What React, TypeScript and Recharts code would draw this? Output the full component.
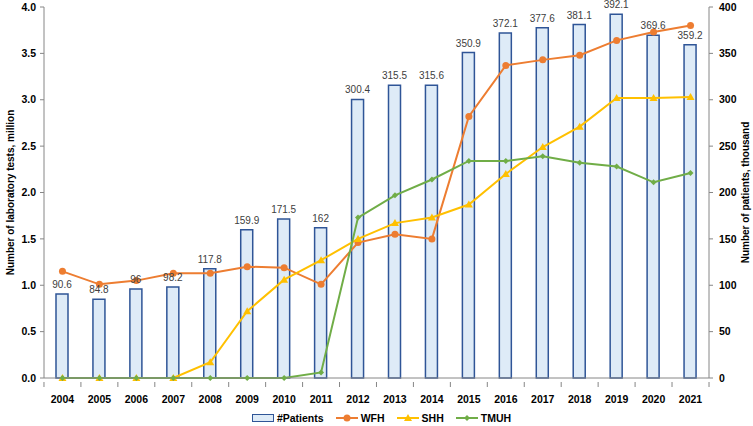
import React from "react";
import {
  ComposedChart,
  Bar,
  Line,
  XAxis,
  YAxis,
  LabelList,
  Legend,
} from "recharts";

const years = [
  "2004", "2005", "2006", "2007", "2008", "2009", "2010", "2011", "2012",
  "2013", "2014", "2015", "2016", "2017", "2018", "2019", "2020", "2021",
];

// number of patients, thousand (right axis)
const patients = [
  90.6, 84.8, 96, 98.2, 117.8, 159.9, 171.5, 162, 300.4, 315.5, 315.6, 350.9,
  372.1, 377.6, 381.1, 392.1, 369.6, 359.2,
];

// laboratory tests, million (left axis)
const wfh = [
  1.15, 1.01, 1.05, 1.13, 1.13, 1.2, 1.19, 1.01, 1.46, 1.55, 1.5, 2.82, 3.37,
  3.43, 3.48, 3.64, 3.73, 3.8,
];
const shh = [
  0, 0, 0, 0, 0.17, 0.72, 1.06, 1.27, 1.5, 1.67, 1.73, 1.87, 2.2, 2.49, 2.71,
  3.02, 3.02, 3.03,
];
const tmuh = [
  0, 0, 0, 0, 0, 0, 0, 0.06, 1.73, 1.97, 2.14, 2.34, 2.34, 2.39, 2.32, 2.28,
  2.11, 2.21,
];

const leftTicks = [0, 0.5, 1, 1.5, 2, 2.5, 3, 3.5, 4];
const rightTicks = [0, 50, 100, 150, 200, 250, 300, 350, 400];

const data = years.map((year, i) => ({
  year,
  patients: patients[i],
  WFH: wfh[i],
  SHH: shh[i],
  TMUH: tmuh[i],
}));

const FONT = "'Liberation Sans', Arial, sans-serif";
const ORANGE = "#ED7D31";
const YELLOW = "#FFC000";
const GREEN = "#70AD47";
const BAR_FILL = "#DEEBF7";
const BAR_STROKE = "#2F5597";
const AXIS = "#868686";

const HALF_BAND = 18.5;

const XTick = (props: any) => {
  const { x, y, payload, index } = props;
  return (
    <g>
      <line x1={x - HALF_BAND} x2={x - HALF_BAND} y1={y - 4} y2={y + 1} stroke={AXIS} />
      {index === years.length - 1 && (
        <line x1={x + HALF_BAND} x2={x + HALF_BAND} y1={y - 4} y2={y + 1} stroke={AXIS} />
      )}
      <text
        x={x}
        y={y + 17}
        textAnchor="middle"
        fontFamily={FONT}
        fontSize={10.5}
        fontWeight="bold"
        fill="#000"
      >
        {payload.value}
      </text>
    </g>
  );
};

const CircleDot = (props: any) => {
  const { cx, cy, index } = props;
  return <circle key={`c${index}`} cx={cx} cy={cy} r={3.5} fill={ORANGE} />;
};

const TriangleDot = (props: any) => {
  const { cx, cy, index } = props;
  return (
    <path
      key={`t${index}`}
      d={`M${cx},${cy - 4} L${cx + 4},${cy + 3} L${cx - 4},${cy + 3} Z`}
      fill={YELLOW}
    />
  );
};

const DiamondDot = (props: any) => {
  const { cx, cy, index } = props;
  return (
    <path
      key={`d${index}`}
      d={`M${cx},${cy - 3} L${cx + 3},${cy} L${cx},${cy + 3} L${cx - 3},${cy} Z`}
      fill={GREEN}
    />
  );
};

const legendItems = [
  { name: "#Patients", kind: "bar", color: BAR_STROKE },
  { name: "WFH", kind: "circle", color: ORANGE },
  { name: "SHH", kind: "triangle", color: YELLOW },
  { name: "TMUH", kind: "diamond", color: GREEN },
];

const LegendContent = () => (
  <div
    style={{
      display: "flex",
      justifyContent: "center",
      alignItems: "center",
      gap: 12,
      fontFamily: FONT,
      fontSize: 10.5,
      fontWeight: "bold",
      color: "#000",
      paddingLeft: 10,
    }}
  >
    {legendItems.map((it) => (
      <div key={it.name} style={{ display: "flex", alignItems: "center", gap: 3 }}>
        <svg width={22} height={10}>
          {it.kind === "bar" ? (
            <rect x={0.5} y={1.5} width={21} height={7} fill={BAR_FILL} stroke={BAR_STROKE} />
          ) : (
            <g>
              <line x1={0} x2={22} y1={5} y2={5} stroke={it.color} strokeWidth={2} />
              {it.kind === "circle" && <circle cx={11} cy={5} r={3.5} fill={it.color} />}
              {it.kind === "triangle" && <path d="M11,1 L15,8 L7,8 Z" fill={it.color} />}
              {it.kind === "diamond" && <path d="M11,2 L14,5 L11,8 L8,5 Z" fill={it.color} />}
            </g>
          )}
        </svg>
        <span>{it.name}</span>
      </div>
    ))}
  </div>
);

export default function App() {
  return (
    <div style={{ position: "absolute", left: 0, top: 0, background: "#fff" }}>
      <ComposedChart
        width={753}
        height={426}
        data={data}
        margin={{ top: 7, right: 0, left: 0, bottom: 0 }}
        barCategoryGap="32%"
      >
        <XAxis
          dataKey="year"
          axisLine={{ stroke: AXIS }}
          tickLine={false}
          tick={<XTick />}
          height={30}
          interval={0}
        />
        <YAxis
          yAxisId="left"
          orientation="left"
          domain={[0, 4]}
          ticks={leftTicks}
          width={44}
          tickFormatter={(v: number) => v.toFixed(1)}
          axisLine={{ stroke: AXIS }}
          tickLine={{ stroke: AXIS }}
          tickSize={4}
          tickMargin={4}
          tick={{ fontFamily: FONT, fontSize: 10.5, fontWeight: "bold", fill: "#000" }}
          label={{
            value: "Number of laboratory tests, million",
            angle: -90,
            position: "center",
            dx: -12,
            style: { fontFamily: FONT, fontSize: 10, fontWeight: "bold", fill: "#000", textAnchor: "middle" },
          }}
        />
        <YAxis
          yAxisId="right"
          orientation="right"
          domain={[0, 400]}
          ticks={rightTicks}
          width={44}
          axisLine={{ stroke: AXIS }}
          tickLine={{ stroke: AXIS }}
          tickSize={4}
          tickMargin={6}
          tick={{ fontFamily: FONT, fontSize: 10.5, fontWeight: "bold", fill: "#000" }}
          label={{
            value: "Number of patients, thousand",
            angle: -90,
            position: "center",
            dx: 14,
            style: { fontFamily: FONT, fontSize: 10, fontWeight: "bold", fill: "#000", textAnchor: "middle" },
          }}
        />
        <Legend
          verticalAlign="bottom"
          height={18}
          wrapperStyle={{ bottom: -4 }}
          content={<LegendContent />}
        />
        <Bar
          yAxisId="right"
          dataKey="patients"
          name="#Patients"
          fill={BAR_FILL}
          stroke={BAR_STROKE}
          strokeWidth={1.5}
          barSize={12}
          isAnimationActive={false}
        >
          <LabelList
            dataKey="patients"
            position="top"
            offset={6}
            style={{ fontFamily: FONT, fontSize: 10, fill: "#404040" }}
          />
        </Bar>
        <Line
          yAxisId="left"
          dataKey="WFH"
          stroke={ORANGE}
          strokeWidth={2}
          dot={<CircleDot />}
          isAnimationActive={false}
        />
        <Line
          yAxisId="left"
          dataKey="SHH"
          stroke={YELLOW}
          strokeWidth={2}
          dot={<TriangleDot />}
          isAnimationActive={false}
        />
        <Line
          yAxisId="left"
          dataKey="TMUH"
          stroke={GREEN}
          strokeWidth={2}
          dot={<DiamondDot />}
          isAnimationActive={false}
        />
      </ComposedChart>
    </div>
  );
}
